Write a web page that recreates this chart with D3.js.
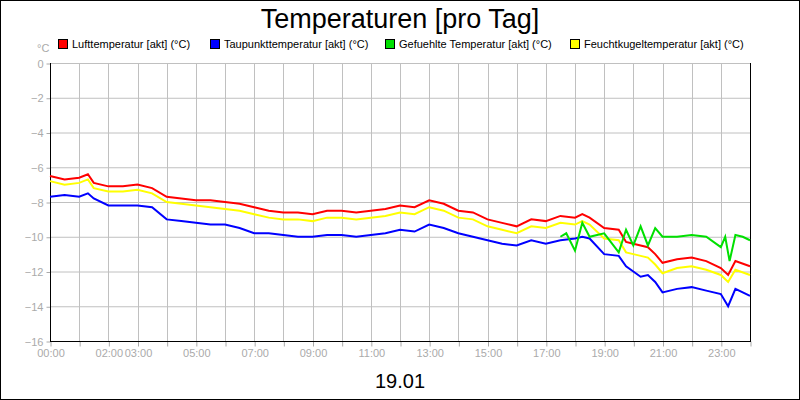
<!DOCTYPE html><html><head><meta charset="utf-8"><script src="https://cdn.jsdelivr.net/npm/d3@7"></script>
<style>body{margin:0}svg{font-family:"Liberation Sans",Arial,sans-serif}</style></head><body><svg width="800" height="400"></svg>
<script>
const hours=[0,0.5,1,1.3,1.5,2,2.5,3,3.5,4,4.5,5,5.5,6,6.5,7,7.5,8,8.5,9,9.5,10,10.5,11,11.5,12,12.5,13,13.5,14,14.5,15,15.5,16,16.5,17,17.5,18,18.25,18.5,19,19.5,19.75,20,20.25,20.5,20.75,21,21.5,22,22.5,23,23.25,23.5,24];
const luft=[-6.5,-6.7,-6.6,-6.4,-6.9,-7.1,-7.1,-7.0,-7.2,-7.7,-7.8,-7.9,-7.9,-8.0,-8.1,-8.3,-8.5,-8.6,-8.6,-8.7,-8.5,-8.5,-8.6,-8.5,-8.4,-8.2,-8.3,-7.9,-8.1,-8.5,-8.6,-9.0,-9.2,-9.4,-9.0,-9.1,-8.8,-8.9,-8.7,-8.9,-9.5,-9.6,-10.3,-10.4,-10.5,-10.6,-11.0,-11.5,-11.3,-11.2,-11.4,-11.8,-12.2,-11.4,-11.7];
const feucht=[-6.8,-7.0,-6.9,-6.7,-7.2,-7.4,-7.4,-7.3,-7.5,-8.0,-8.1,-8.2,-8.3,-8.4,-8.5,-8.7,-8.9,-9.0,-9.0,-9.1,-8.9,-8.9,-9.0,-8.9,-8.8,-8.6,-8.7,-8.3,-8.5,-8.9,-9.0,-9.4,-9.6,-9.8,-9.4,-9.5,-9.2,-9.3,-9.1,-9.3,-10.1,-10.2,-10.9,-11.0,-11.1,-11.2,-11.6,-12.1,-11.8,-11.7,-11.9,-12.2,-12.6,-11.9,-12.2];
const tau=[-7.7,-7.6,-7.7,-7.5,-7.8,-8.2,-8.2,-8.2,-8.3,-9.0,-9.1,-9.2,-9.3,-9.3,-9.5,-9.8,-9.8,-9.9,-10.0,-10.0,-9.9,-9.9,-10.0,-9.9,-9.8,-9.6,-9.7,-9.3,-9.5,-9.8,-10.0,-10.2,-10.4,-10.5,-10.2,-10.4,-10.2,-10.1,-10.0,-10.1,-11.0,-11.1,-11.7,-12.0,-12.3,-12.2,-12.6,-13.2,-13.0,-12.9,-13.1,-13.3,-14.0,-13.0,-13.4];
const gHours=[17.5,17.7,18,18.25,18.5,19,19.5,19.75,20,20.25,20.5,20.75,21,21.5,22,22.5,23,23.15,23.3,23.5,23.75,24];
const gefuehlt=[-10.0,-9.8,-10.8,-9.2,-10.0,-9.8,-10.9,-9.6,-10.5,-9.4,-10.5,-9.5,-10.0,-10.0,-9.9,-10.0,-10.6,-10.0,-11.4,-9.9,-10.0,-10.2];
const xTickHours=[0,2,3,5,7,9,11,13,15,17,19,21,23];
const yTicks=[0,-2,-4,-6,-8,-10,-12,-14,-16];
const legend=[["Lufttemperatur [akt] (°C)","#ff0000"],["Taupunkttemperatur [akt] (°C)","#0000ff"],["Gefuehlte Temperatur [akt] (°C)","#00e000"],["Feuchtkugeltemperatur [akt] (°C)","#ffff00"]];
const legendX=[58,210,385,570];

const svg=d3.select("svg");
svg.append("rect").attr("x",0.5).attr("y",0.5).attr("width",799).attr("height",399).attr("fill","#fff").attr("stroke","#000");
const x=d3.scaleLinear().domain([0,24]).range([50,750]);
const y=d3.scaleLinear().domain([-16,0]).range([341,63]);
svg.append("text").attr("x",400).attr("y",28).attr("text-anchor","middle").attr("font-size",27).text("Temperaturen [pro Tag]");
legend.forEach((l,i)=>{const g=svg.append("g");
 g.append("rect").attr("x",legendX[i]+0.5).attr("y",39.5).attr("width",9).attr("height",9).attr("fill",l[1]).attr("stroke","#000");
 g.append("text").attr("x",legendX[i]+14).attr("y",48).attr("font-size",11).text(l[0]);});
svg.append("text").attr("x",37).attr("y",52).attr("font-size",11).attr("fill","#aaa").text("°C");
const grid=svg.append("g").attr("stroke","#c0c0c0");
yTicks.forEach(v=>grid.append("line").attr("x1",50).attr("x2",750).attr("y1",y(v)+0.5).attr("y2",y(v)+0.5));
d3.range(1,24).forEach(h=>grid.append("line").attr("x1",Math.round(x(h))+0.5).attr("x2",Math.round(x(h))+0.5).attr("y1",63).attr("y2",341));
const ya=svg.append("g").attr("transform","translate(50.5,0.5)").call(d3.axisLeft(y).tickValues(yTicks).tickSize(4).tickFormat(d3.format("d")));
const xa=svg.append("g").attr("transform","translate(0.5,341.5)").call(d3.axisBottom(x).tickValues(d3.range(0,25)).tickSize(5).tickFormat(d=>xTickHours.includes(d)?String(d).padStart(2,"0")+":00":""));
[ya,xa].forEach(a=>{a.select(".domain").remove();a.selectAll("line").attr("stroke","#aaa");a.selectAll("text").attr("fill","#aaa").attr("font-size",11).attr("font-family","Liberation Sans Narrow, Liberation Sans, sans-serif");});
svg.append("line").attr("x1",50.5).attr("x2",50.5).attr("y1",63).attr("y2",341).attr("stroke","#000");
svg.append("line").attr("x1",750.5).attr("x2",750.5).attr("y1",63).attr("y2",341).attr("stroke","#000");
svg.append("line").attr("x1",50).attr("x2",751).attr("y1",341.5).attr("y2",341.5).attr("stroke","#000");
const line=d3.line().x(d=>x(d[0])).y(d=>y(d[1]));
const series=[[hours,feucht,"#ffff00"],[hours,luft,"#ff0000"],[hours,tau,"#0000ff"],[gHours,gefuehlt,"#00e000"]];
series.forEach(s=>svg.append("path").attr("d",line(s[0].map((h,i)=>[h,s[1][i]]))).attr("fill","none").attr("stroke",s[2]).attr("stroke-width",2));
svg.append("text").attr("x",400).attr("y",388).attr("text-anchor","middle").attr("font-size",20).text("19.01");
</script></body></html>
